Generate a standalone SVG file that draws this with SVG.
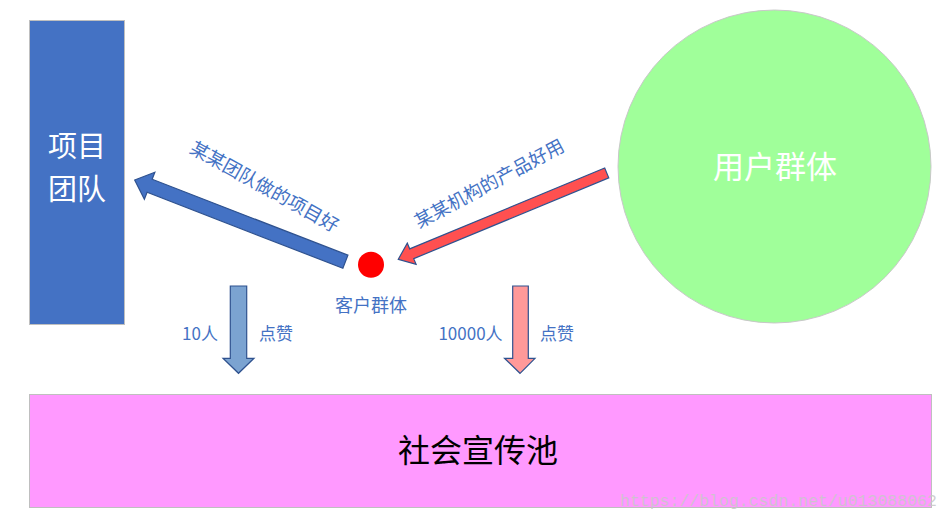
<svg xmlns="http://www.w3.org/2000/svg" width="951" height="523" viewBox="0 0 951 523">
<style>
.cjk{font-family:"Noto Sans CJK SC","Liberation Sans",sans-serif;}
.lbl{fill:#4472C4;font-size:17px;}
.arrow{stroke:#2F528F;stroke-width:1.2;stroke-linejoin:miter;}
</style>
<rect width="951" height="523" fill="#ffffff"/>
<g id="team">
<rect x="29.5" y="20.5" width="95" height="304" fill="#4472C4" stroke="#BFBFBF" stroke-width="1"/>
<text class="cjk" x="77" y="157" font-size="29" fill="#ffffff" text-anchor="middle">项目</text>
<text class="cjk" x="77" y="200" font-size="29" fill="#ffffff" text-anchor="middle">团队</text>
</g>
<g id="users">
<circle cx="774.5" cy="166.5" r="156.5" fill="#A0FF9A" stroke="#C8C8C8" stroke-width="1"/>
<text class="cjk" x="775" y="178" font-size="31" fill="#ffffff" text-anchor="middle">用户群体</text>
</g>
<g id="pool">
<rect x="29.5" y="394.5" width="902" height="113" fill="#FF99FF" stroke="#BFBFBF" stroke-width="1"/>
<text class="cjk" x="478" y="462" font-size="32" fill="#000000" text-anchor="middle">社会宣传池</text>
</g>
<g id="customers">
<circle cx="371" cy="264.7" r="13" fill="#FF0000"/>
<text class="cjk lbl" x="371" y="311.5" font-size="18" text-anchor="middle" style="font-size:18px">客户群体</text>
</g>
<g id="connectors">
<g transform="translate(134.7,180) rotate(21.2)">
<polygon class="arrow" fill="#4472C4" points="0,0 16,-14.5 16,-7 226,-7 226,7 16,7 16,14.5"/>
</g>
<g transform="translate(398.3,259.3) rotate(-22.5)">
<polygon class="arrow" fill="#FF5050" points="0,0 14.5,-11.5 14.5,-5.3 225.6,-5.3 225.6,5.3 14.5,5.3 14.5,11.5"/>
</g>
<polygon class="arrow" fill="#7BA3D1" points="230.3,286 246.7,286 246.7,358.3 254,358.3 238.5,373.3 223,358.3 230.3,358.3"/>
<polygon class="arrow" fill="#FF9999" points="512.7,286 528.3,286 528.3,358.3 535,358.3 520,373.3 504.5,358.3 512.7,358.3"/>
<text class="cjk" transform="translate(265.3,185.5) rotate(29)" font-size="18.5" fill="#4472C4" text-anchor="middle" dominant-baseline="central">某某团队做的项目好</text>
<text class="cjk" transform="translate(488.7,182.3) rotate(-28.2)" font-size="18.5" fill="#4472C4" text-anchor="middle" dominant-baseline="central">某某机构的产品好用</text>
<text class="cjk lbl" x="200" y="339.5" text-anchor="middle">10人</text>
<text class="cjk lbl" x="276" y="339.5" text-anchor="middle">点赞</text>
<text class="cjk lbl" x="470.5" y="339.5" text-anchor="middle">10000人</text>
<text class="cjk lbl" x="557" y="339.5" text-anchor="middle">点赞</text>
</g>
<text x="620" y="506" font-family="Liberation Mono, monospace" font-size="16.5" fill="#C8C8C8" fill-opacity="0.85">https://blog.csdn.net/u013088062</text>
</svg>
